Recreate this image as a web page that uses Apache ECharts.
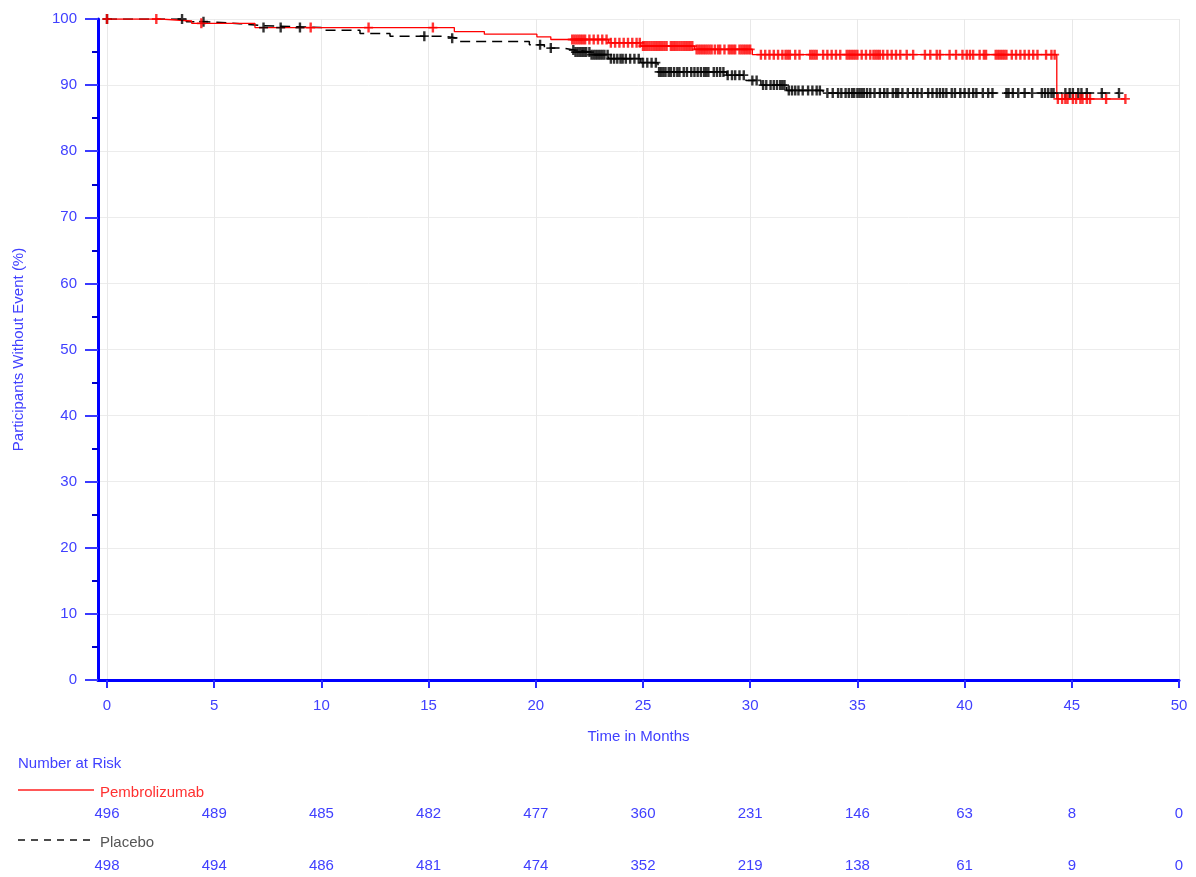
<!DOCTYPE html>
<html><head><meta charset="utf-8">
<script src="https://cdn.jsdelivr.net/npm/echarts@6/dist/echarts.min.js"></script>
<style>html,body{margin:0;padding:0;background:#fff}#c{width:1196px;height:877px}</style>
</head><body><div id="c"></div>
<script>
// ---------- data ----------
const xTicks = [0, 5, 10, 15, 20, 25, 30, 35, 40, 45, 50];
const seriesNames = ['Pembrolizumab', 'Placebo'];

// Kaplan-Meier steps: [time (months), % without event after the step]
const pembroSteps = [[0,100],[2.5,99.7],[3.95,99.35],[6.9,98.7],[16.2,98.1],[17.6,97.7],[20.05,97.3],[20.7,96.9],[23.4,96.4],[24.9,95.9],[27.4,95.4],[30.1,94.6],[44.3,87.9]];
const pembroEnd = 47.5;
const placeboSteps = [[0,100],[3.7,99.6],[4.6,99.3],[6.2,99.0],[7.2,98.7],[10.0,98.3],[11.8,97.8],[13.2,97.4],[15.7,97.1],[16.4,96.6],[19.7,96.1],[20.4,95.6],[21.3,95.3],[21.8,95.0],[22.6,94.6],[23.4,94.0],[24.9,93.4],[25.7,92.0],[28.9,91.5],[29.8,90.7],[30.5,90.0],[31.7,89.2],[33.4,88.8]];
const placeboEnd = 47.2;

// censoring times (months)
const pembroCensor = [0,2.3,4.4,9.5,12.2,15.2,
21.7,21.8,21.9,22.0,22.1,22.2,22.3,22.5,22.7,22.9,23.1,23.3,23.5,23.7,23.9,
24.1,24.3,24.5,24.7,24.85,
25.0,25.1,25.2,25.3,25.4,25.5,25.6,25.7,25.8,25.9,26.0,26.1,
26.3,26.4,26.5,26.6,26.7,26.8,26.9,27.0,27.1,27.2,27.3,
27.5,27.6,27.7,27.8,27.9,28.0,28.1,28.2,28.35,28.5,
28.6,28.8,29.0,29.1,29.2,29.3,29.5,29.6,29.7,29.8,29.9,30.0,
30.5,30.7,30.9,31.1,31.3,31.5,31.65,31.75,31.85,32.1,32.3,32.8,32.9,33.0,33.1,
33.4,33.6,33.8,34.0,34.2,34.5,34.6,34.7,34.8,34.9,35.0,35.2,35.4,35.6,35.75,35.85,35.95,36.05,
36.2,36.4,36.6,36.8,37.0,37.3,37.6,38.15,38.4,38.7,38.85,39.3,39.6,39.9,40.1,40.25,40.4,40.7,40.9,41.0,
41.45,41.55,41.65,41.75,41.85,41.95,42.2,42.4,42.6,42.8,43.0,43.2,43.4,43.8,44.05,44.2,
44.35,44.55,44.7,44.8,45.05,45.2,45.4,45.5,45.7,45.85,46.6,47.5];
const placeboCensor = [0,3.5,4.5,7.3,8.1,9.0,14.8,16.1,20.2,20.7,
21.75,21.85,21.95,22.05,22.15,22.25,22.35,22.5,22.6,22.7,22.8,22.9,23.0,23.1,23.2,23.35,
23.5,23.65,23.8,23.95,24.05,
24.2,24.4,24.6,24.8,25.0,25.2,25.4,25.6,
25.75,25.85,25.95,26.05,26.2,26.3,26.45,26.6,26.7,26.9,27.05,27.25,27.4,27.55,27.7,27.85,27.95,28.05,28.3,28.45,28.6,28.75,
28.95,29.15,29.3,29.5,29.7,30.1,30.3,30.6,30.75,30.95,31.1,31.25,31.4,31.5,31.6,
31.8,31.95,32.1,32.25,32.45,32.7,32.9,33.1,33.25,
33.6,33.85,34.1,34.25,34.45,34.6,34.75,34.85,35.0,35.1,35.2,35.3,35.45,35.6,35.8,36.05,36.25,36.4,36.65,36.8,36.9,37.1,37.35,37.6,37.8,38.0,38.3,38.5,38.7,38.85,39.0,39.15,39.4,39.55,
39.8,40.0,40.2,40.4,40.55,40.85,41.1,41.3,41.95,42.05,42.25,42.5,42.8,43.15,43.6,43.75,43.9,44.05,44.15,
44.7,44.9,45.05,45.3,45.45,45.7,46.4,47.2];

// number at risk
const riskTimes = [0, 5, 10, 15, 20, 25, 30, 35, 40, 45, 50];
const riskPembro = [496, 489, 485, 482, 477, 360, 231, 146, 63, 8, 0];
const riskPlacebo = [498, 494, 486, 481, 474, 352, 219, 138, 61, 9, 0];

// ---------- helpers ----------
function survAt(steps, t) { let s = steps[0][1]; for (const p of steps) { if (p[0] <= t) s = p[1]; } return s; }
function curve(steps, end) { return steps.concat([[end, steps[steps.length - 1][1]]]); }
function marks(steps, times) { return times.map(t => [t, survAt(steps, t)]); }

const FONT = '"Liberation Sans", Arial, sans-serif';
const BLUE_TXT = '#4040ff';
const PLUS = 'path://M3.3,0H5.7V3.7H9V5.3H5.7V9H3.3V5.3H0V3.7H3.3Z';

const chart = echarts.init(document.getElementById('c'), null, {renderer: 'canvas'});
chart.setOption({
  animation: false,
  backgroundColor: '#ffffff',
  grid: {left: 98, right: 17, top: 19, bottom: 197, containLabel: false},
  xAxis: {
    type: 'value', min: -0.42, max: 50,
    axisLine: {show: true, onZero: false, lineStyle: {color: '#0000ff', width: 3}},
    axisTick: {show: true, customValues: xTicks, length: 8, lineStyle: {color: '#2a2aff', width: 2}},
    axisLabel: {customValues: xTicks, margin: 18, color: BLUE_TXT, fontSize: 15, fontFamily: FONT},
    splitLine: {show: true, lineStyle: {color: '#e8e8e8', width: 1}},
    name: 'Time in Months', nameLocation: 'middle', nameGap: 49,
    nameTextStyle: {color: BLUE_TXT, fontSize: 15, fontFamily: FONT}
  },
  yAxis: {
    type: 'value', min: 0, max: 100, interval: 10,
    axisLine: {show: true, onZero: false, lineStyle: {color: '#0000ff', width: 3}},
    axisTick: {show: true, length: 13, lineStyle: {color: '#3a3aff', width: 2}},
    minorTick: {show: true, splitNumber: 2, length: 6, lineStyle: {color: '#0000cc', width: 2}},
    axisLabel: {margin: 21, color: BLUE_TXT, fontSize: 15, fontFamily: FONT},
    splitLine: {show: true, lineStyle: {color: '#ececec', width: 1}},
    name: 'Participants Without Event (%)', nameLocation: 'middle', nameGap: 72,
    nameTextStyle: {color: BLUE_TXT, fontSize: 15, fontFamily: FONT}
  },
  series: [
    {name: seriesNames[1], type: 'line', step: 'end', symbol: 'none', data: curve(placeboSteps, placeboEnd),
     lineStyle: {color: '#000000', width: 1.5, type: [10, 6]}, z: 2},
    {name: seriesNames[0], type: 'line', step: 'end', symbol: 'none', data: curve(pembroSteps, pembroEnd),
     lineStyle: {color: '#ff0000', width: 1.3}, z: 3},
    {name: seriesNames[1] + ' censored', type: 'scatter', data: marks(placeboSteps, placeboCensor),
     symbol: PLUS, symbolSize: [9, 10], itemStyle: {color: '#000000'}, z: 4},
    {name: seriesNames[0] + ' censored', type: 'scatter', data: marks(pembroSteps, pembroCensor),
     symbol: PLUS, symbolSize: [9, 10], itemStyle: {color: '#ff0000'}, z: 5}
  ]
});

// ---------- number at risk table ----------
const txt = (text, x, y, fill, align) => ({type: 'text', x: x, y: y, silent: true,
  style: {text: text, fill: fill, font: '15px ' + FONT, textAlign: align || 'center', textVerticalAlign: 'middle'}});
const g = [];
g.push(txt('Number at Risk', 18, 764, BLUE_TXT, 'left'));
g.push({type: 'line', shape: {x1: 18, y1: 790, x2: 94, y2: 790}, style: {stroke: '#ff2020', lineWidth: 1.3}});
g.push(txt(seriesNames[0], 100, 793, '#ff3030', 'left'));
g.push({type: 'line', shape: {x1: 18, y1: 840, x2: 92, y2: 840}, style: {stroke: '#111', lineWidth: 1.5, lineDash: [7, 6]}});
g.push(txt(seriesNames[1], 100, 843, '#555555', 'left'));
riskTimes.forEach((t, i) => {
  const px = chart.convertToPixel({xAxisIndex: 0}, t);
  g.push(txt(String(riskPembro[i]), px, 814, BLUE_TXT));
  g.push(txt(String(riskPlacebo[i]), px, 866, BLUE_TXT));
});
chart.setOption({graphic: g});
</script>
</body></html>
